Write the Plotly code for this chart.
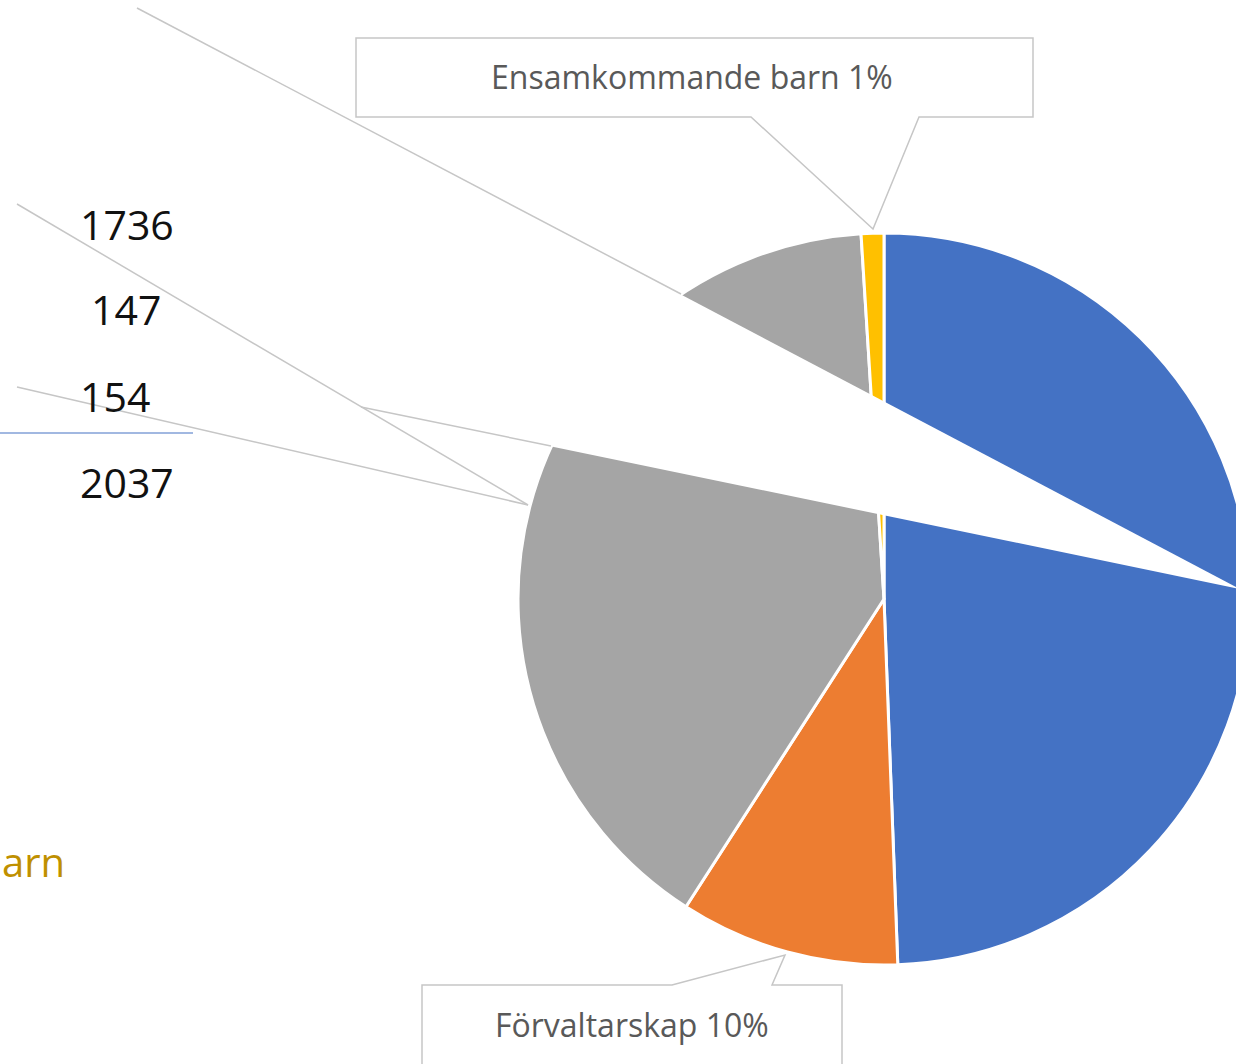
import plotly.graph_objects as go

# ---- data ----
slice_labels = ["Övrigt A", "Förvaltarskap", "Övrigt B", "Ensamkommande barn"]
slice_shares = [49.4, 9.7, 39.9, 1.0]
slice_colors = ["#4472C4", "#ED7D31", "#A5A5A5", "#FFC000"]

table_values = ["1736", "147", "154", "2037"]
callout_texts = ["Ensamkommande barn 1%", "Förvaltarskap 10%"]
legend_fragment = "arn"

# ---- canvas (pixel coordinates) ----
W, H = 1264, 1064
CX, CY, R = 884, 599, 366

fig = go.Figure()

# invisible trace so that the pixel-based cartesian axes exist
fig.add_trace(go.Scatter(x=[0, W], y=[0, H], mode="markers",
                         marker=dict(opacity=0), hoverinfo="skip", showlegend=False))

fig.add_trace(go.Pie(
    labels=slice_labels,
    values=slice_shares,
    sort=False,
    direction="clockwise",
    rotation=0,
    marker=dict(colors=slice_colors, line=dict(color="white", width=3)),
    textinfo="none",
    hoverinfo="label+percent",
    showlegend=False,
    domain=dict(x=[(CX - R) / W, (CX + R) / W],
                y=[(H - CY - R) / H, (H - CY + R) / H]),
))

line_col = "#C6C6C6"
shapes = []
# white wedge overlay
shapes.append(dict(type="path", path="M137,8 L1240,589 L361,407 Z", xref="x", yref="y",
                   fillcolor="white", line=dict(width=0), layer="above"))
# gray leader lines
for (x0, y0, x1, y1) in [(137, 8, 681, 294), (361, 407, 551, 446),
                          (17, 204, 528, 505), (17, 387, 528, 505)]:
    shapes.append(dict(type="line", x0=x0, y0=y0, x1=x1, y1=y1, xref="x", yref="y",
                       line=dict(color=line_col, width=1.5), layer="above"))
# blue sum line
shapes.append(dict(type="line", x0=0, y0=433, x1=193, y1=433, xref="x", yref="y",
                   line=dict(color="#4472C4", width=1.2), layer="above"))
# callout boxes
shapes.append(dict(type="path", xref="x", yref="y",
                   path="M356,38 H1033 V117 H919 L873,229 L751,117 H356 Z",
                   fillcolor="white", line=dict(color=line_col, width=1.5), layer="above"))
shapes.append(dict(type="path", xref="x", yref="y",
                   path="M422,985 H672 L785,955 L772,985 H842 V1070 H422 Z",
                   fillcolor="white", line=dict(color=line_col, width=1.5), layer="above"))

annotations = []
num_pos = [(78, 224), (89, 309), (78, 396), (78, 482)]
for txt, (x, y) in zip(table_values, num_pos):
    annotations.append(dict(x=x, y=y, xref="x", yref="y", text=txt, showarrow=False,
                            xanchor="left", yanchor="middle",
                            font=dict(family="Open Sans", size=41, color="#111111")))
annotations.append(dict(x=692, y=76, xref="x", yref="y", text=callout_texts[0], showarrow=False,
                        xanchor="center", yanchor="middle",
                        font=dict(family="Open Sans", size=32, color="#595959")))
annotations.append(dict(x=632, y=1024, xref="x", yref="y", text=callout_texts[1], showarrow=False,
                        xanchor="center", yanchor="middle",
                        font=dict(family="Open Sans", size=32, color="#595959")))
annotations.append(dict(x=0, y=861, xref="x", yref="y", text=legend_fragment, showarrow=False,
                        xanchor="left", yanchor="middle",
                        font=dict(family="Open Sans", size=40, color="#BF9000")))

fig.update_layout(
    width=W, height=H,
    margin=dict(l=0, r=0, t=0, b=0),
    paper_bgcolor="white", plot_bgcolor="white",
    xaxis=dict(range=[0, W], visible=False, fixedrange=True, domain=[0, 1]),
    yaxis=dict(range=[H, 0], visible=False, fixedrange=True, domain=[0, 1]),
    shapes=shapes, annotations=annotations,
)

fig.write_html("out.html",
               post_script="document.body.style.margin='0';document.body.style.overflow='hidden';",
               config={"displayModeBar": False})
